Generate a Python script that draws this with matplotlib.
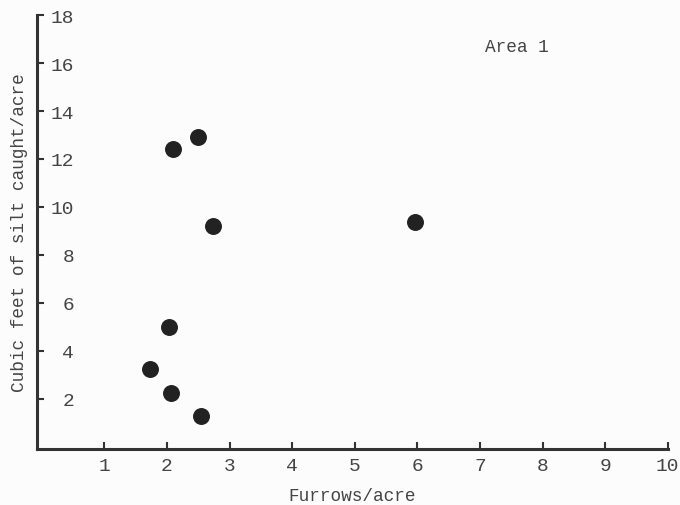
import matplotlib.pyplot as plt

# Furrows per acre vs silt caught, Area 1
furrows = [2.09, 2.5, 2.74, 5.97, 2.03, 1.73, 2.06, 2.54]
silt = [12.4, 12.9, 9.2, 9.35, 5.0, 3.25, 2.25, 1.25]

x_ticks = [1, 2, 3, 4, 5, 6, 7, 8, 9, 10]
y_ticks = [2, 4, 6, 8, 10, 12, 14, 16, 18]

mono = "Liberation Mono"
ink = "#333333"

fig = plt.figure(figsize=(6.8, 5.06), dpi=100, facecolor="#fcfcfc")
ax = fig.add_axes([0.054, 0.111, 0.928, 0.857])
ax.set_facecolor("#fcfcfc")

ax.scatter(furrows, silt, s=125, color="#222222", zorder=3)

ax.set_xlim(-0.08, 10)
ax.set_ylim(-0.1, 18)
ax.set_xticks(x_ticks)
ax.set_yticks(y_ticks)
ax.set_xticklabels([str(t) for t in x_ticks], family=mono, fontsize=14, color="#444444")
ax.set_yticklabels([str(t) for t in y_ticks], family=mono, fontsize=14, color="#444444")

for side in ["top", "right"]:
    ax.spines[side].set_visible(False)
for side in ["left", "bottom"]:
    ax.spines[side].set_linewidth(2.2)
    ax.spines[side].set_color(ink)

ax.tick_params(axis="x", direction="in", length=5, width=1.5, color=ink, pad=6)
ax.tick_params(axis="y", direction="in", length=5, width=1.5, color=ink, pad=-27)

ax.set_xlabel("Furrows/acre", family=mono, fontsize=12.8, color="#444444", labelpad=9)
ax.set_ylabel("Cubic feet of silt caught/acre", family=mono, fontsize=12.8, color="#444444", labelpad=6)

ax.text(7.08, 16.7, "Area 1", family=mono, fontsize=12.8, color="#444444", ha="left", va="center")

fig.savefig("out.png", dpi=100, facecolor=fig.get_facecolor())
